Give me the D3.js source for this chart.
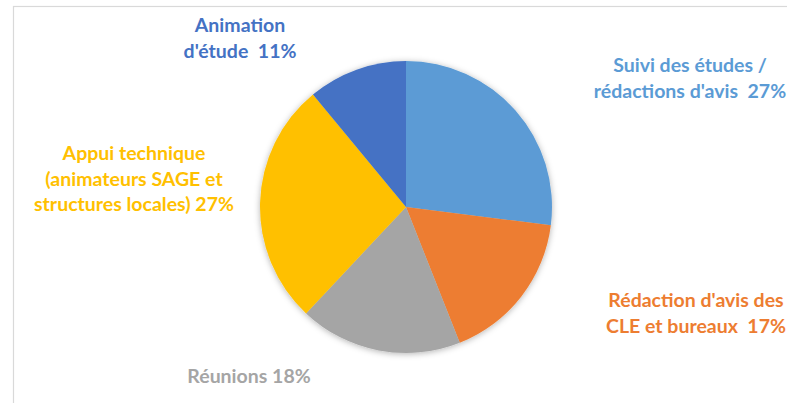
<!DOCTYPE html>
<html>
<head>
<meta charset="utf-8">
<script src="https://cdn.jsdelivr.net/npm/d3@7"></script>
<style>
  body { margin: 0; background: #fff; }
  svg text { font-family: Lato, "Open Sans", sans-serif; font-weight: 700; }
</style>
</head>
<body>
<div id="chart"></div>
<script>
// data, in drawing order (clockwise from 12 o'clock)
var categories = ["Suivi des études / rédactions d'avis", "Rédaction d'avis des CLE et bureaux", "Réunions", "Appui technique (animateurs SAGE et structures locales)", "Animation d'étude"];
var values = [27, 17, 18, 27, 11];
var labelLines = [
  ["Suivi des études /", "rédactions d'avis  27%"],
  ["Rédaction d'avis des", "CLE et bureaux  17%"],
  ["Réunions 18%"],
  ["Appui technique", "(animateurs SAGE et", "structures locales) 27%"],
  ["Animation", "d'étude  11%"]
];
var colors = ["#5B9BD5", "#ED7D31", "#A5A5A5", "#FFC000", "#4472C4"];

var width = 787, height = 403;
var cx = 406, cy = 207, radius = 146;
// label anchor (centre x, first baseline y), as placed in the original
var labelAt = [[690, 72], [696, 307], [249, 383], [134, 160], [240, 32]];
var lineH = 25.5;

var svg = d3.select("#chart").append("svg")
  .attr("width", width)
  .attr("height", height);

// chart border
svg.append("rect")
  .attr("x", 13.5).attr("y", 6.5)
  .attr("width", width).attr("height", height)
  .attr("fill", "none")
  .attr("stroke", "#d9d9d9")
  .attr("stroke-width", 1.2);

var defs = svg.append("defs");
var f = defs.append("filter").attr("id", "shadow")
  .attr("x", "-20%").attr("y", "-20%").attr("width", "140%").attr("height", "140%");
f.append("feDropShadow")
  .attr("dx", 0).attr("dy", 1)
  .attr("stdDeviation", 3)
  .attr("flood-color", "#000")
  .attr("flood-opacity", 0.3);

var pie = d3.pie().sort(null).value(function(d) { return d; });
var arc = d3.arc().innerRadius(0).outerRadius(radius);

var g = svg.append("g")
  .attr("transform", "translate(" + cx + "," + cy + ")")
  .attr("filter", "url(#shadow)");

g.selectAll("path")
  .data(pie(values))
  .enter()
  .append("path")
  .attr("d", arc)
  .attr("fill", function(d, i) { return colors[i]; });

var labels = svg.selectAll("text.lbl")
  .data(labelLines)
  .enter()
  .append("text")
  .attr("class", "lbl")
  .attr("text-anchor", "middle")
  .attr("font-size", 19.5)
  .attr("fill", function(d, i) { return colors[i]; })
  .attr("transform", function(d, i) { return "translate(" + labelAt[i][0] + "," + labelAt[i][1] + ")"; });

labels.selectAll("tspan")
  .data(function(d) { return d; })
  .enter()
  .append("tspan")
  .attr("x", 0)
  .attr("y", function(d, j) { return j * lineH; })
  .attr("xml:space", "preserve")
  .style("white-space", "pre")
  .text(function(d) { return d; });
</script>
</body>
</html>
